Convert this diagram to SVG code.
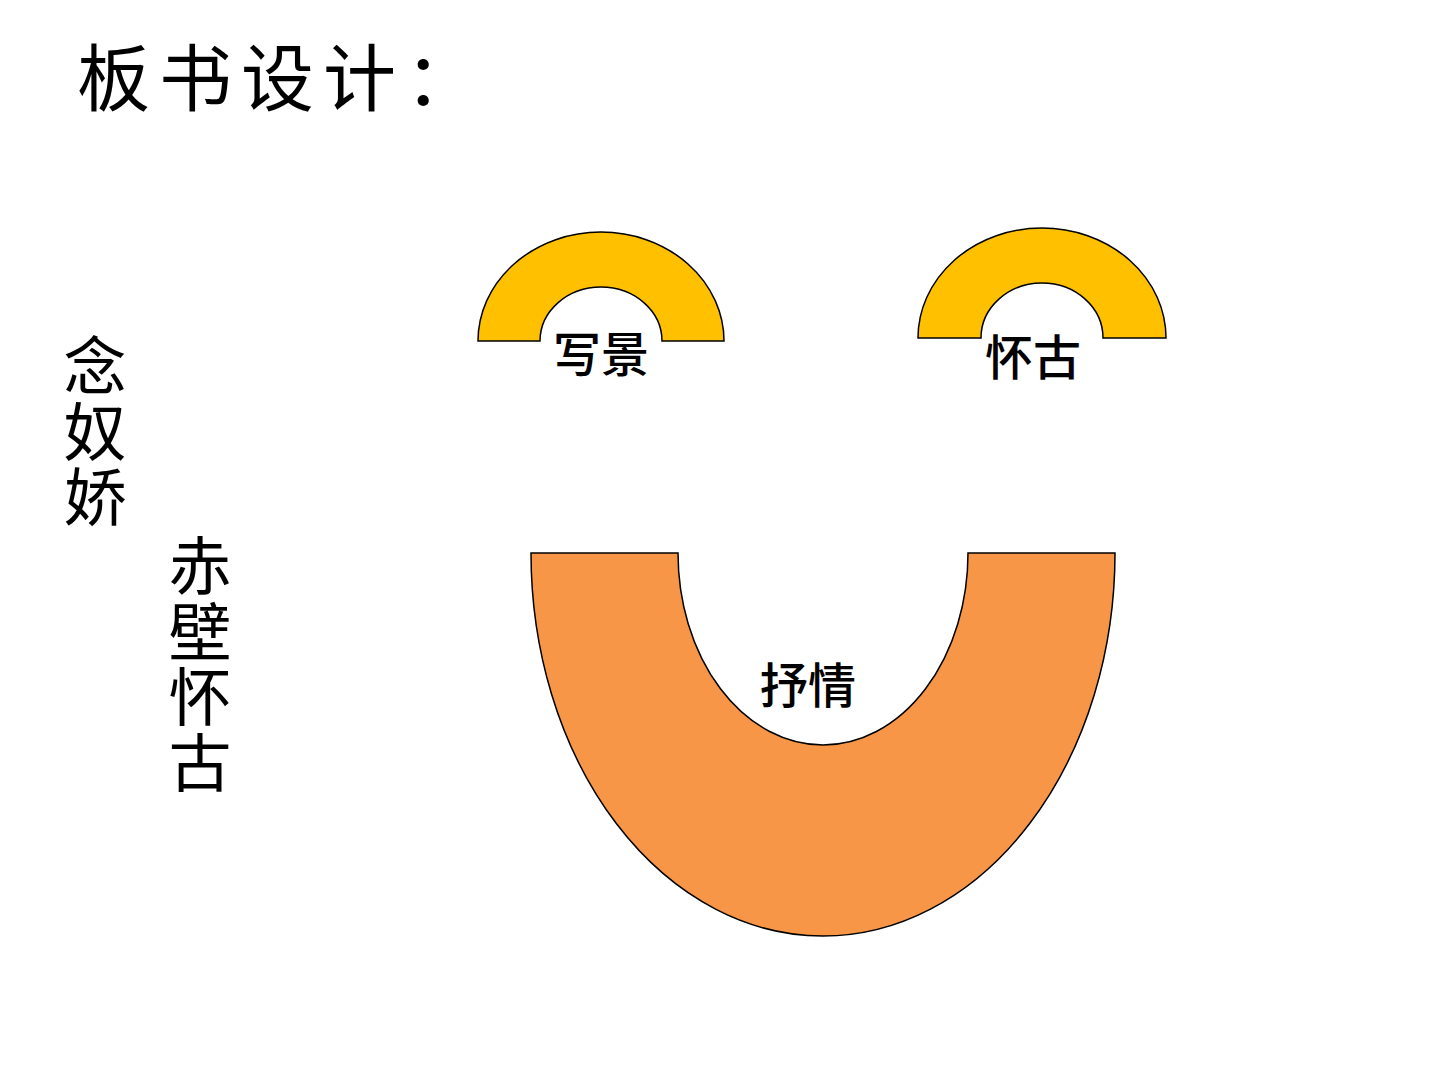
<svg xmlns="http://www.w3.org/2000/svg" width="1440" height="1080" viewBox="0 0 1440 1080">
<style>
.t{font-family:"Noto Sans CJK SC","Noto Sans CJK JP",sans-serif;fill:#000}
.lab{font-size:48px;font-weight:500;text-anchor:middle}
.v{font-size:63px;writing-mode:vertical-rl;letter-spacing:2.5px}
.arc{stroke:#000;stroke-width:1.5;stroke-linejoin:miter}
.y{fill:#FFC000}
.o{fill:#F79646}
</style>
<rect width="1440" height="1080" fill="#fff"/>
<g id="title"><text class="t" x="77" y="105" font-size="73" letter-spacing="9">板书设计：</text></g>
<g id="niannujiao">
<text class="t v" x="95" y="334">念奴娇</text>
</g>
<g id="chibihuaigu">
<text class="t v" x="200" y="534">赤壁怀古</text>
</g>
<g id="xiejing">
<path class="arc y" d="M478,341 A123,109 0 0 1 724,341 L662,341 A61,54 0 0 0 540,341 Z"/>
<text class="t lab" x="601" y="372">写景</text>
</g>
<g id="huaigu">
<path class="arc y" d="M918,338 A124,110 0 0 1 1166,338 L1103,338 A61,55 0 0 0 981,338 Z"/>
<text class="t lab" x="1033" y="375">怀古</text>
</g>
<g id="shuqing">
<path class="arc o" d="M531,553 A292,383 0 0 0 1115,553 L968,553 A145,192 0 0 1 678,553 Z"/>
<text class="t lab" x="808" y="703">抒情</text>
</g>
<g id="connectors"></g>
</svg>
